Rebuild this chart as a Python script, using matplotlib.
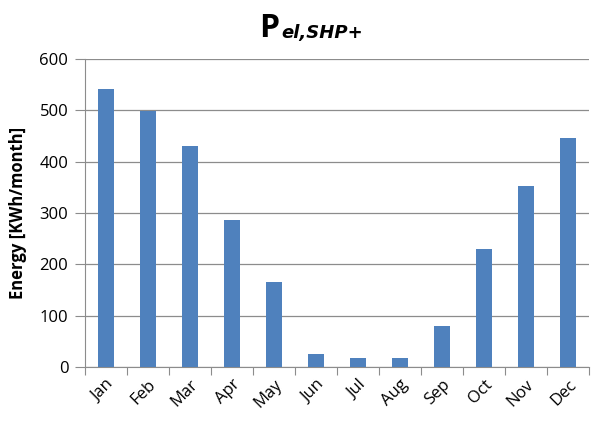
import matplotlib.pyplot as plt
import numpy as np

months = ['Jan', 'Feb', 'Mar', 'Apr', 'May', 'Jun',
          'Jul', 'Aug', 'Sep', 'Oct', 'Nov', 'Dec']
energy = [541, 499, 431, 287, 166, 25, 18, 18, 80, 230, 353, 446]
yticks = [0, 100, 200, 300, 400, 500, 600]

plt.rcParams['font.family'] = ['Open Sans', 'DejaVu Sans']

fig = plt.figure(figsize=(5.92, 4.21), dpi=100)
# axes box: x 85..589 px, y 59..367 px
ax = fig.add_axes([85 / 592, 1 - 367 / 421, 504 / 592, 308 / 421])

x = np.arange(len(months))
ax.bar(x, energy, width=0.4, color='#4F81BD', zorder=3)

ax.set_xlim(-0.5, len(months) - 0.5)
ax.set_ylim(0, 600)
ax.set_yticks(yticks)
ax.set_yticklabels([str(v) for v in yticks], fontsize=12)
ax.yaxis.grid(True, color='#8C8C8C', linewidth=0.9, zorder=0)
ax.tick_params(axis='y', length=7, color='#8C8C8C', direction='out', pad=5)

# category ticks sit between the bars
ax.set_xticks(np.arange(-0.5, len(months) + 0.5, 1))
ax.set_xticklabels([])
ax.set_xticks(x, minor=True)
ax.set_xticklabels(months, minor=True, rotation=45, fontsize=12,
                   ha='right', va='top', rotation_mode='anchor')
ax.tick_params(axis='x', which='major', length=6, color='#8C8C8C')
ax.tick_params(axis='x', which='minor', length=0, pad=7)

for side in ['top', 'right']:
    ax.spines[side].set_visible(False)
for side in ['left', 'bottom']:
    ax.spines[side].set_color('#8C8C8C')

ax.set_ylabel('Energy [KWh/month]', fontsize=12, fontweight='bold', labelpad=9)

fig.text(279 / 592, 1 - 37 / 421, 'P', fontsize=23, fontweight='bold',
         ha='right', va='baseline')
fig.text(281 / 592, 1 - 38 / 421, 'el,SHP+', fontsize=13, fontweight='bold',
         style='oblique', family='DejaVu Sans', ha='left', va='baseline')

fig.savefig('out.png', dpi=100)
